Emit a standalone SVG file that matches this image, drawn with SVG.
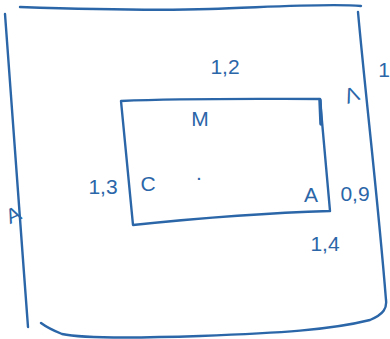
<svg xmlns="http://www.w3.org/2000/svg" width="390" height="339" viewBox="0 0 390 339">
<style>
.ln{fill:none;stroke:#2b66a8;stroke-width:2.4;stroke-linecap:round;stroke-linejoin:round}
.t{font-family:"Liberation Sans",Arial,sans-serif;fill:#2b66a8;font-size:21px}
</style>
<rect width="390" height="339" fill="#ffffff"/>
<g id="outer">
<path class="ln" d="M20,7 C80,9 150,11 210,9 C270,7 330,3 361,6"/>
<path class="ln" d="M5,14 C12,110 20,220 28,327"/>
<path class="ln" d="M358,12 C366,100 378,200 386,300 C387,308 384,314 370,320 C330,330 280,333 200,336 C140,338 80,338 62,334 C52,330 45,326 41,323"/>
</g>
<g id="inner">
<path class="ln" d="M121,101 C190,98 260,99 320,99 L330,211 C260,213 200,218 133,225 Z"/>
<path class="ln" d="M320,100 L321,124" style="stroke-width:3.5"/>
</g>
<g id="labels">
<text class="t" x="225" y="74" text-anchor="middle">1,2</text>
<text class="t" x="200" y="126" text-anchor="middle" font-size="19">M</text>
<text class="t" x="148" y="191" text-anchor="middle" font-size="24">C</text>
<text class="t" x="199" y="180" text-anchor="middle" font-size="10">.</text>
<text class="t" x="311" y="202" text-anchor="middle" font-size="24">A</text>
<text class="t" x="355" y="201" text-anchor="middle">0,9</text>
<text class="t" x="103" y="194" text-anchor="middle">1,3</text>
<text class="t" x="325" y="251" text-anchor="middle">1,4</text>
<text class="t" x="384" y="77" text-anchor="middle">1</text>
<text class="t" x="352" y="102" text-anchor="middle" font-size="16" transform="rotate(-20 352 96)">Λ</text>
<text class="t" x="13" y="222" text-anchor="middle" font-size="24" transform="rotate(-25 13 214)">A</text>
</g>
</svg>
